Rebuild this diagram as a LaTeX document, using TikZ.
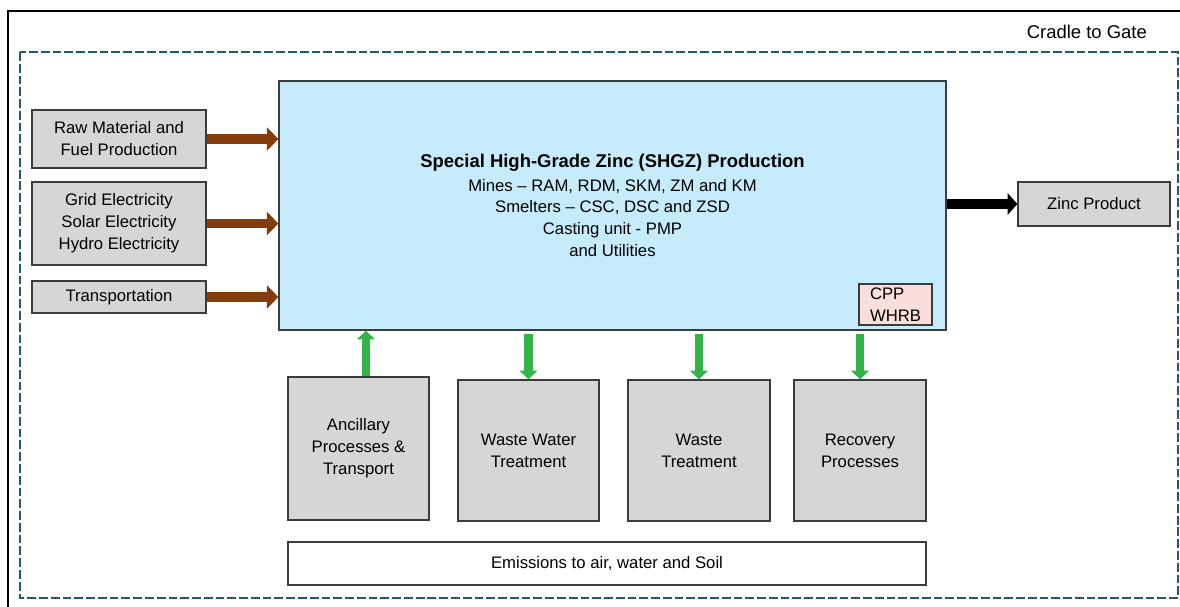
\documentclass[tikz,border=0pt]{standalone}
\usepackage{fontspec}
\setmainfont{Liberation Sans}
\usepackage{tikz}
\usetikzlibrary{arrows.meta}
\definecolor{mainblue}{RGB}{198,236,252}
\definecolor{boxgrey}{RGB}{214,214,214}
\definecolor{boxline}{RGB}{60,60,60}
\definecolor{cpppink}{RGB}{250,222,220}
\definecolor{flowbrown}{RGB}{132,60,12}
\definecolor{flowgreen}{RGB}{50,180,70}
\definecolor{gateblue}{RGB}{30,90,120}
\tikzset{
    greybox/.style={draw=boxline, line width=0.75pt, fill=boxgrey, align=center,
        font=\fontsize{9.5}{12.5}\selectfont, inner sep=2pt},
    inflow/.style={draw=flowbrown, line width=5.6pt, -{Triangle[width=13pt,length=6.5pt]}},
    greenflow/.style={draw=flowgreen, line width=4.6pt, -{Triangle[width=10pt,length=5pt]}},
    outflow/.style={draw=black, line width=5.6pt, -{Triangle[width=12pt,length=5.5pt]}}
}

\begin{document}
\begin{tikzpicture}[x=0.02cm, y=-0.02cm]
    \useasboundingbox (0,0) rectangle (1180,606);

    % Draw the outer frame and the cradle to gate boundary
    \draw[line width=1.2pt] (8,620) -- (8,11) -- (1195,11);
    \draw[gateblue, line width=1.1pt, dash pattern=on 5pt off 1.7pt] (20,52) rectangle (1178,598);
    \node[anchor=east, font=\fontsize{10.5}{12}\selectfont] (gate) at (1153,32) {Cradle to Gate};

    % The production block in the middle
    \node[draw=boxline, line width=0.75pt, fill=mainblue, minimum width=13.34cm, minimum height=4.98cm,
        align=center, font=\fontsize{9.5}{12.5}\selectfont] (shgz) at (612.5,205.5)
        {{\fontsize{10.5}{12}\selectfont\bfseries Special High-Grade Zinc (SHGZ) Production}\\[1pt]
         Mines -- RAM, RDM, SKM, ZM and KM\\
         Smelters -- CSC, DSC and ZSD\\
         Casting unit - PMP\\
         and Utilities};
    \node[draw=boxline, line width=0.75pt, fill=cpppink, minimum width=1.46cm, minimum height=0.82cm,
        align=left, inner sep=1pt, font=\fontsize{9.5}{12.5}\selectfont] (cpp) at (895.5,304.5) {CPP\\WHRB};

    % Inputs on the left
    \node[greybox, minimum width=3.48cm, minimum height=1.16cm] (raw) at (119,139)
        {Raw Material and\\Fuel Production};
    \node[greybox, minimum width=3.48cm, minimum height=1.66cm] (grid) at (119,223.5)
        {Grid Electricity\\Solar Electricity\\Hydro Electricity};
    \node[greybox, minimum width=3.48cm, minimum height=0.64cm] (trans) at (119,297) {Transportation};

    % Output on the right
    \node[greybox, minimum width=3.04cm, minimum height=0.88cm] (zinc) at (1094,204) {Zinc Product};

    % Boxes below the production block
    \node[greybox, minimum width=2.82cm, minimum height=2.86cm] (ancil) at (358.5,448.5)
        {Ancillary\\Processes \&\\Transport};
    \node[greybox, minimum width=2.82cm, minimum height=2.82cm] (wwater) at (528.5,450.5)
        {Waste Water\\Treatment};
    \node[greybox, minimum width=2.84cm, minimum height=2.82cm] (waste) at (699,450.5)
        {Waste\\Treatment};
    \node[greybox, minimum width=2.64cm, minimum height=2.82cm] (recov) at (860,450.5)
        {Recovery\\Processes};
    \node[greybox, fill=white, minimum width=12.76cm, minimum height=0.86cm] (emis) at (607,563.5)
        {Emissions to air, water and Soil};

    % Draw the flows
    \foreach \src in {raw,grid,trans}
        \draw[inflow] (\src.east) -- (\src.east -| shgz.west);
    \draw[outflow] (shgz.east |- zinc.west) -- (zinc.west);
    \draw[greenflow] ([xshift=0.15cm]ancil.north) -- ([xshift=0.15cm]ancil.north |- shgz.south);
    \foreach \dst in {wwater,waste,recov}
        \draw[greenflow] ([yshift=-2pt]shgz.south -| \dst.north) -- (\dst.north);
\end{tikzpicture}
\end{document}
